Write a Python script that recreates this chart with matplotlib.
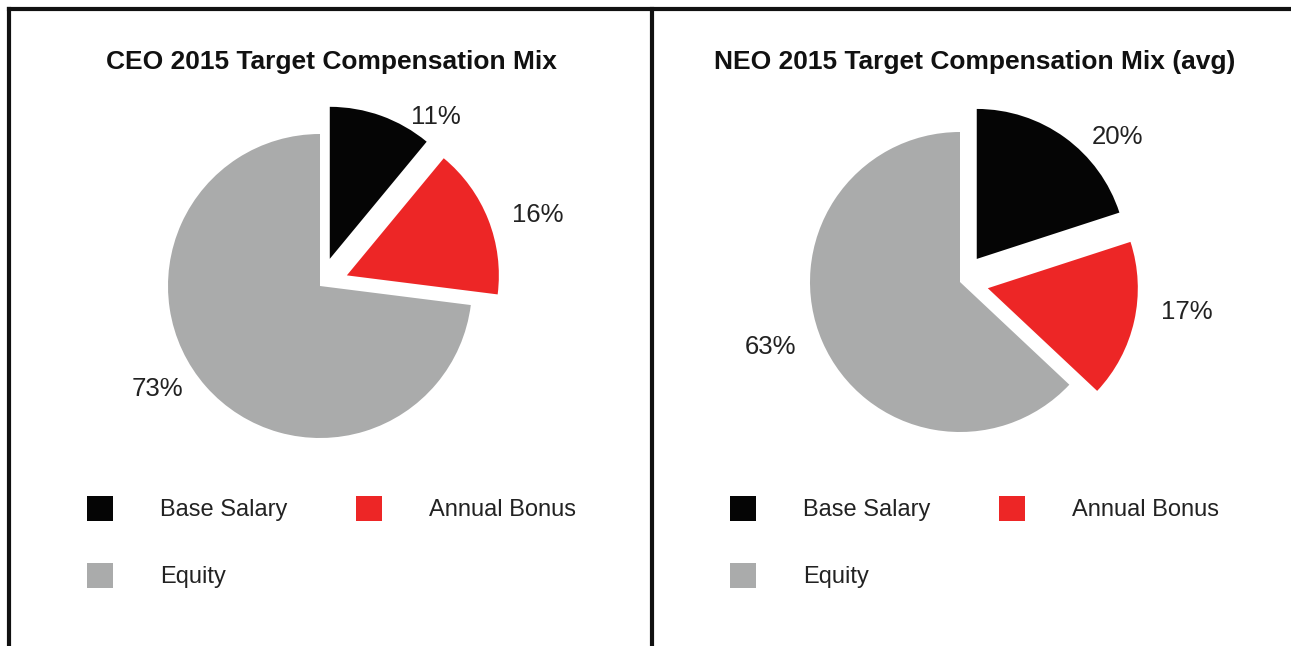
import matplotlib
matplotlib.use("Agg")
import matplotlib.pyplot as plt
from matplotlib.lines import Line2D

plt.rcParams['font.family'] = ['Liberation Sans', 'DejaVu Sans']

categories = ["Base Salary", "Annual Bonus", "Equity"]
ceo_mix = [11, 16, 73]
neo_mix = [20, 17, 63]
titles = ["CEO 2015 Target Compensation Mix", "NEO 2015 Target Compensation Mix (avg)"]
colors = ["#050505", "#ed2626", "#aaabab"]

W, H = 1291, 646
fig = plt.figure(figsize=(W / 100, H / 100), dpi=100)
fig.patch.set_facecolor("white")

LIM = 1.7


def pie_panel(cx, cy, r, values, title, title_x, label_pos, legend_x):
    size = 2 * LIM * r
    ax = fig.add_axes([(cx - size / 2) / W, (H - cy - size / 2) / H, size / W, size / H])
    wedges, _, pcts = ax.pie(values, colors=colors, startangle=90, counterclock=False,
                             explode=[0.19, 0.19, 0], autopct='%.0f%%',
                             wedgeprops=dict(linewidth=0),
                             textprops=dict(fontsize=18.5, color="#222222"))
    for t, pos in zip(pcts, label_pos):
        t.set_position(pos)
    ax.set_xlim(-LIM, LIM)
    ax.set_ylim(-LIM, LIM)
    ax.set_aspect('equal')
    ax.axis('off')

    fig.text(title_x / W, 1 - 62 / H, title, ha='center', va='center',
             fontsize=19, fontweight='bold', color="#111111")

    # row-first ordering for a 2-column legend
    order = [0, 2, 1]
    fig.legend([wedges[i] for i in order], [categories[i] for i in order],
               ncol=2, loc='upper left', bbox_to_anchor=(legend_x / W, 1 - 496 / H),
               frameon=False, fontsize=17, handlelength=1.1, handleheight=1.25,
               handletextpad=2.0, columnspacing=2.9, labelspacing=1.75,
               borderaxespad=0, borderpad=0, labelcolor="#222222")


pie_panel(320, 286, 152, ceo_mix, titles[0], 331,
          [(0.76, 1.11), (1.43, 0.47), (-1.07, -0.68)], 87)
pie_panel(960, 282, 150, neo_mix, titles[1], 975,
          [(1.05, 0.97), (1.51, -0.2), (-1.26, -0.43)], 730)

# panel borders
lw = 3
fig.add_artist(Line2D([9 / W, 1], [1 - 9 / H, 1 - 9 / H], color="#111111", lw=lw))
fig.add_artist(Line2D([9 / W, 9 / W], [0, 1 - 9 / H], color="#111111", lw=lw))
fig.add_artist(Line2D([652 / W, 652 / W], [0, 1 - 9 / H], color="#111111", lw=lw))

fig.savefig("out.png", dpi=100)
